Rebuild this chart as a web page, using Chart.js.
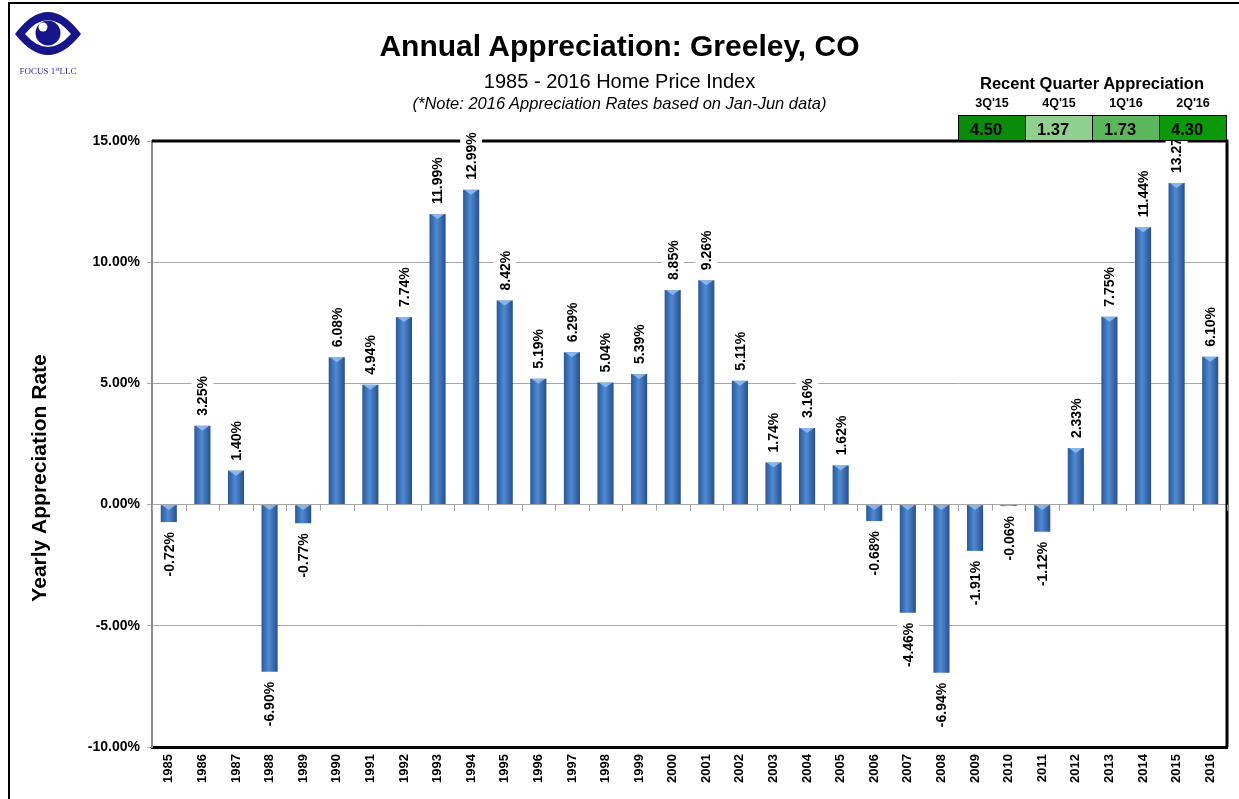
<!DOCTYPE html>
<html>
<head>
<meta charset="utf-8">
<script src="https://cdn.jsdelivr.net/npm/chart.js@4/dist/chart.umd.min.js"></script>
<style>
  body { margin: 0; background: #fff; font-family: "Liberation Sans", Arial, sans-serif; }
  #wrap { position: relative; width: 1239px; height: 799px; overflow: hidden; }
  #frame { position: absolute; left: 8px; top: 2px; width: 1231px; height: 797px; border-left: 2px solid #000; border-top: 2px solid #000; box-sizing: border-box; pointer-events: none; }
  canvas { position: absolute; left: 0; top: 0; }
  .txt { position: absolute; white-space: nowrap; color: #000; }
  #title { left: 0; width: 1239px; text-align: center; top: 29px; font-size: 30px; font-weight: bold; }
  #sub { left: 0; width: 1239px; text-align: center; top: 70px; font-size: 20px; }
  #note { left: 0; width: 1239px; text-align: center; top: 94px; font-size: 16.5px; font-style: italic; }
  #qtitle { left: 958px; width: 268px; text-align: center; top: 74px; font-size: 16.5px; font-weight: bold; }
  #qtable { position: absolute; left: 958px; top: 96px; border-collapse: collapse; }
  #qtable th { font-size: 12.5px; font-weight: bold; height: 19px; padding: 0; text-align: center; vertical-align: top; }
  #qtable td { width: 67px; height: 25px; border: 1.5px solid #000; font-size: 16.5px; font-weight: bold; padding: 2px 0 0 11px; box-sizing: border-box; text-align: left; }
  #logo { position: absolute; left: 12px; top: 6px; }
</style>
</head>
<body>
<div id="wrap">
  <canvas id="chart" width="1239" height="799"></canvas>
  <div id="frame"></div>
  <svg id="logo" width="80" height="74" viewBox="0 0 80 74">
    <path d="M3 28 Q36 -16 69 28 Q36 70 3 28 Z" fill="#16168a"/>
    <path d="M13 28 Q36 0 59 28 Q36 54 13 28 Z" fill="#fff"/>
    <circle cx="36" cy="27" r="12.5" fill="#16168a"/>
    <circle cx="31" cy="21" r="4.5" fill="#fff"/>
    <text x="36" y="68" text-anchor="middle" font-family="Liberation Serif, serif" font-size="9" fill="#2a2a9a">FOCUS 1<tspan font-size="6" dy="-3">st</tspan><tspan dy="3">LLC</tspan></text>
  </svg>
  <div class="txt" id="title">Annual Appreciation: Greeley, CO</div>
  <div class="txt" id="sub">1985 - 2016 Home Price Index</div>
  <div class="txt" id="note">(*Note: 2016 Appreciation Rates based on Jan-Jun data)</div>
  <div class="txt" id="qtitle">Recent Quarter Appreciation</div>
  <table id="qtable">
    <tr id="qhead"></tr>
    <tr id="qvals"></tr>
  </table>
</div>
<script>
// yearly appreciation, in percent
const years = ['1985','1986','1987','1988','1989','1990','1991','1992','1993','1994','1995',
  '1996','1997','1998','1999','2000','2001','2002','2003','2004','2005','2006','2007','2008',
  '2009','2010','2011','2012','2013','2014','2015','2016'];
const rates = [-0.72, 3.25, 1.40, -6.90, -0.77, 6.08, 4.94, 7.74, 11.99, 12.99, 8.42,
  5.19, 6.29, 5.04, 5.39, 8.85, 9.26, 5.11, 1.74, 3.16, 1.62, -0.68, -4.46, -6.94,
  -1.91, -0.06, -1.12, 2.33, 7.75, 11.44, 13.27, 6.10];
const yTicks = [-10, -5, 0, 5, 10, 15];
const yTitle = 'Yearly Appreciation Rate';

// recent quarters box
const quarters = ["3Q'15", "4Q'15", "1Q'16", "2Q'16"];
const quarterRates = ['4.50', '1.37', '1.73', '4.30'];
const quarterColors = ['#0a8c0a', '#8fd08f', '#5cb65c', '#0b980b'];

const head = document.getElementById('qhead');
const vals = document.getElementById('qvals');
quarters.forEach((q, i) => {
  const th = document.createElement('th');
  th.textContent = q;
  head.appendChild(th);
  const td = document.createElement('td');
  td.textContent = quarterRates[i];
  td.style.background = quarterColors[i];
  vals.appendChild(td);
});

const BAR_PCT = 0.48;
const FONT = '"Liberation Sans", Arial, sans-serif';

function barGradient(ctx) {
  const chart = ctx.chart;
  const xs = chart.scales.x;
  if (!xs || ctx.dataIndex === undefined) return '#3d73ba';
  const cx = xs.getPixelForTick(ctx.dataIndex);
  const w = xs.width / years.length * BAR_PCT;
  if (!isFinite(cx) || !isFinite(w) || w <= 0) return '#3d73ba';
  const g = chart.ctx.createLinearGradient(cx - w / 2, 0, cx + w / 2, 0);
  g.addColorStop(0, '#2a5896');
  g.addColorStop(0.45, '#4f8ad4');
  g.addColorStop(1, '#284f8a');
  return g;
}

// frame on top/right, small category ticks on the zero line, y title
const framePlugin = {
  id: 'frame',
  beforeDatasetsDraw(chart) {
    const { ctx, chartArea: a, scales: { x, y } } = chart;
    ctx.save();
    ctx.strokeStyle = '#000';
    ctx.lineWidth = 3;
    ctx.beginPath();
    ctx.moveTo(a.left, a.top);
    ctx.lineTo(a.right, a.top);
    ctx.lineTo(a.right, a.bottom);
    ctx.stroke();
    const y0 = y.getPixelForValue(0);
    const step = x.width / years.length;
    ctx.strokeStyle = '#a0a0a0';
    ctx.lineWidth = 1;
    for (let i = 0; i <= years.length; i++) {
      const px = Math.round(x.left + i * step) + 0.5;
      ctx.beginPath();
      ctx.moveTo(px, y0);
      ctx.lineTo(px, y0 + 6);
      ctx.stroke();
    }
    // axis title sits a little below the middle of the axis
    ctx.translate(40, y.getPixelForValue(1.1));
    ctx.rotate(-Math.PI / 2);
    ctx.font = 'bold 21px ' + FONT;
    ctx.fillStyle = '#000';
    ctx.textAlign = 'center';
    ctx.textBaseline = 'middle';
    ctx.fillText(yTitle, 0, 0);
    ctx.restore();
  }
};

// light cap at the top of each bar and the value labels
const labelPlugin = {
  id: 'barLabels',
  afterDatasetsDraw(chart) {
    const { ctx } = chart;
    const meta = chart.getDatasetMeta(0);
    ctx.save();
    meta.data.forEach((bar) => {
      const p = bar.getProps(['x', 'y', 'base', 'width']);
      const top = Math.min(p.y, p.base);
      const hw = p.width / 2;
      const capH = Math.min(5, Math.abs(p.base - p.y));
      ctx.fillStyle = 'rgba(150,195,245,0.8)';
      ctx.beginPath();
      ctx.moveTo(p.x - hw + 1, top);
      ctx.lineTo(p.x + hw - 1, top);
      ctx.lineTo(p.x, top + capH);
      ctx.closePath();
      ctx.fill();
    });

    ctx.font = 'bold 14px ' + FONT;
    ctx.textBaseline = 'middle';
    meta.data.forEach((bar, i) => {
      const v = rates[i];
      const txt = v.toFixed(2) + '%';
      const p = bar.getProps(['x', 'y', 'base']);
      const w = ctx.measureText(txt).width;
      ctx.save();
      ctx.translate(p.x, v >= 0 ? p.y - 10 : p.y + 10);
      ctx.rotate(-Math.PI / 2);
      ctx.fillStyle = '#fff';
      if (v >= 0) ctx.fillRect(-2, -11, w + 4, 22);
      else ctx.fillRect(-w - 2, -11, w + 4, 22);
      ctx.fillStyle = '#000';
      ctx.textAlign = v >= 0 ? 'left' : 'right';
      ctx.fillText(txt, 0, 1);
      ctx.restore();
    });
    ctx.restore();
  }
};

new Chart(document.getElementById('chart').getContext('2d'), {
  type: 'bar',
  data: {
    labels: years,
    datasets: [{
      label: yTitle,
      data: rates,
      backgroundColor: barGradient,
      borderWidth: 0,
      barPercentage: BAR_PCT,
      categoryPercentage: 1
    }]
  },
  options: {
    responsive: false,
    animation: false,
    layout: { padding: { top: 141, right: 12, left: 10, bottom: 0 } },
    plugins: { legend: { display: false }, tooltip: { enabled: false } },
    scales: {
      x: {
        grid: { display: false, drawTicks: false },
        border: { color: '#000', width: 3 },
        ticks: {
          minRotation: 90, maxRotation: 90, padding: 7, color: '#000',
          font: { family: FONT, size: 13, weight: 'bold' }
        },
        afterFit(scale) { scale.height = 52; }
      },
      y: {
        min: yTicks[0],
        max: yTicks[yTicks.length - 1],
        afterBuildTicks(scale) { scale.ticks = yTicks.map(v => ({ value: v })); },
        grid: { color: '#a6a6a6', tickColor: '#a6a6a6', tickLength: 5, lineWidth: 1 },
        border: { color: '#8c8c8c', width: 2 },
        ticks: {
          padding: 7, color: '#000',
          font: { family: FONT, size: 14, weight: 'bold' },
          callback: v => v.toFixed(2) + '%'
        },
        afterFit(scale) { scale.width = 142; }
      }
    }
  },
  plugins: [framePlugin, labelPlugin]
});
</script>
</body>
</html>
